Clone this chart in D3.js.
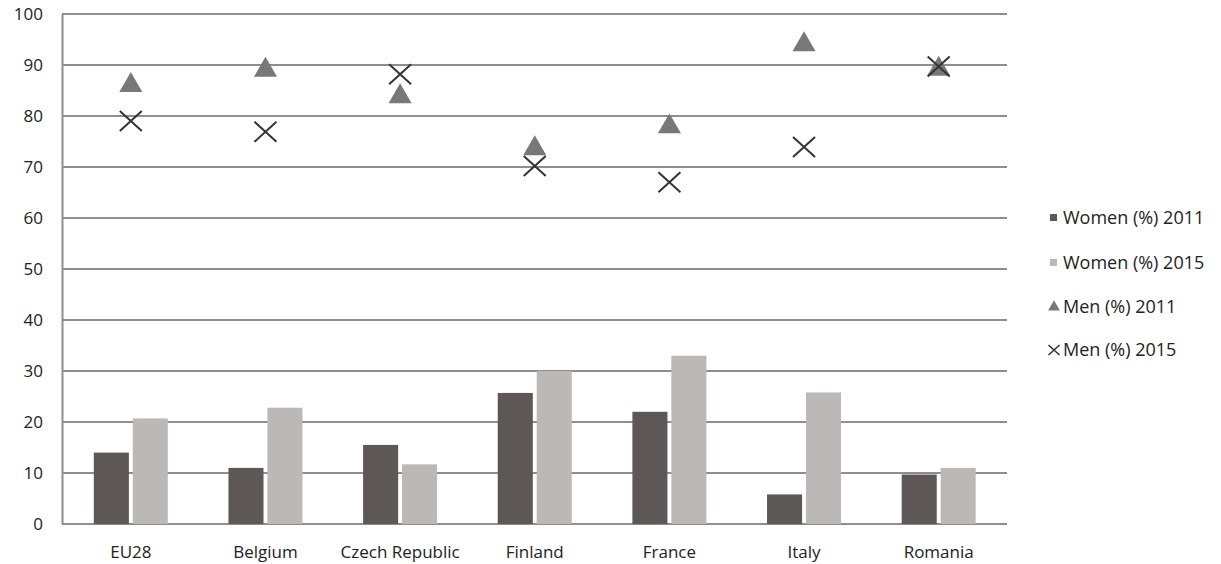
<!DOCTYPE html>
<html>
<head>
<meta charset="utf-8">
<script src="https://cdn.jsdelivr.net/npm/d3@7"></script>
<style>
  html, body { margin: 0; padding: 0; background: #fff; }
  svg { display: block; }
  text { font-family: "Open Sans", "Liberation Sans", sans-serif; fill: #222; }
</style>
</head>
<body>
<svg id="chart" width="1221" height="564"></svg>
<script>
const categories = ["EU28", "Belgium", "Czech Republic", "Finland", "France", "Italy", "Romania"];
const women2011 = [14, 11, 15.5, 25.7, 22, 5.8, 9.7];
const women2015 = [20.7, 22.8, 11.7, 30, 33, 25.8, 11];
const men2011 = [86, 89, 83.8, 73.6, 77.9, 94, 89.2];
const men2015 = [79, 76.9, 88.2, 70.2, 67, 73.9, 89.7];
const yTicks = [0, 10, 20, 30, 40, 50, 60, 70, 80, 90, 100];
const seriesNames = ["Women (%) 2011", "Women (%) 2015", "Men (%) 2011", "Men (%) 2015"];

const svg = d3.select("#chart");
const plotLeft = 62, plotRight = 1007, plotTop = 14, plotBottom = 524;

const x = d3.scaleBand().domain(categories).range([63.5, 1006]).padding(0);
const y = d3.scaleLinear().domain([0, 100]).range([plotBottom, plotTop]);
const inner = d3.scaleBand().domain(["w2011", "w2015"]).range([-37, 37]).paddingInner(0.1);

const colors = { w2011: "#5d5757", w2015: "#bcb8b8", m2011: "#787878", m2015: "#333" };

// gridlines
const grid = svg.append("g");
grid.selectAll("line").data(yTicks).join("line")
  .attr("x1", plotLeft).attr("x2", plotRight)
  .attr("y1", d => y(d)).attr("y2", d => y(d))
  .attr("stroke", "#8e8e8e").attr("stroke-width", 2);

// y axis
const yAxis = d3.axisLeft(y).tickValues(yTicks).tickSize(0).tickPadding(19);
const gy = svg.append("g").attr("transform", `translate(${plotLeft},0)`).call(yAxis);
gy.attr("font-family", null).attr("font-size", null);
gy.select(".domain").attr("stroke", "#8e8e8e").attr("stroke-width", 2);
gy.selectAll("text").attr("font-size", 17).style("fill", "#222");

// x axis labels
const xAxis = d3.axisBottom(x).tickSize(0).tickPadding(22);
const gx = svg.append("g").attr("transform", `translate(0,${plotBottom})`).call(xAxis);
gx.attr("font-family", null).attr("font-size", null);
gx.select(".domain").remove();
gx.selectAll("text").attr("font-size", 17).style("fill", "#222");

// bars
const barData = [];
categories.forEach((c, i) => {
  barData.push({ c, k: "w2011", v: women2011[i] });
  barData.push({ c, k: "w2015", v: women2015[i] });
});
svg.append("g").selectAll("rect").data(barData).join("rect")
  .attr("x", d => x(d.c) + x.bandwidth() / 2 + inner(d.k))
  .attr("width", inner.bandwidth())
  .attr("y", d => y(d.v))
  .attr("height", d => y(0) - y(d.v))
  .attr("fill", d => colors[d.k]);

// triangles (Men 2011)
const tri = d3.symbol().type(d3.symbolTriangle).size(230);
svg.append("g").selectAll("path").data(categories).join("path")
  .attr("d", tri)
  .attr("transform", (c, i) => `translate(${x(c) + x.bandwidth() / 2},${y(men2011[i])})`)
  .attr("fill", colors.m2011);

// crosses (Men 2015)
const cross = (sx, sy) => `M${-sx},${-sy}L${sx},${sy}M${-sx},${sy}L${sx},${-sy}`;
svg.append("g").selectAll("path").data(categories).join("path")
  .attr("d", cross(11, 10))
  .attr("transform", (c, i) => `translate(${x(c) + x.bandwidth() / 2},${y(men2015[i])})`)
  .attr("stroke", colors.m2015).attr("stroke-width", 2).attr("fill", "none");

// legend
const legY = [218, 263, 307, 350];
const leg = svg.append("g");
seriesNames.forEach((name, i) => {
  const g = leg.append("g").attr("transform", `translate(1054,${legY[i]})`);
  if (i === 0 || i === 1) {
    g.append("rect").attr("x", -4).attr("y", -4).attr("width", 7).attr("height", 7)
      .attr("fill", i === 0 ? colors.w2011 : colors.w2015);
  } else if (i === 2) {
    g.append("path").attr("d", d3.symbol().type(d3.symbolTriangle).size(60)).attr("fill", colors.m2011);
  } else {
    g.append("path").attr("d", cross(5.5, 5)).attr("stroke", colors.m2015).attr("stroke-width", 1.6).attr("fill", "none");
  }
  g.append("text").attr("x", 9).attr("dy", "0.35em").attr("font-size", 18).text(name);
});
</script>
</body>
</html>
